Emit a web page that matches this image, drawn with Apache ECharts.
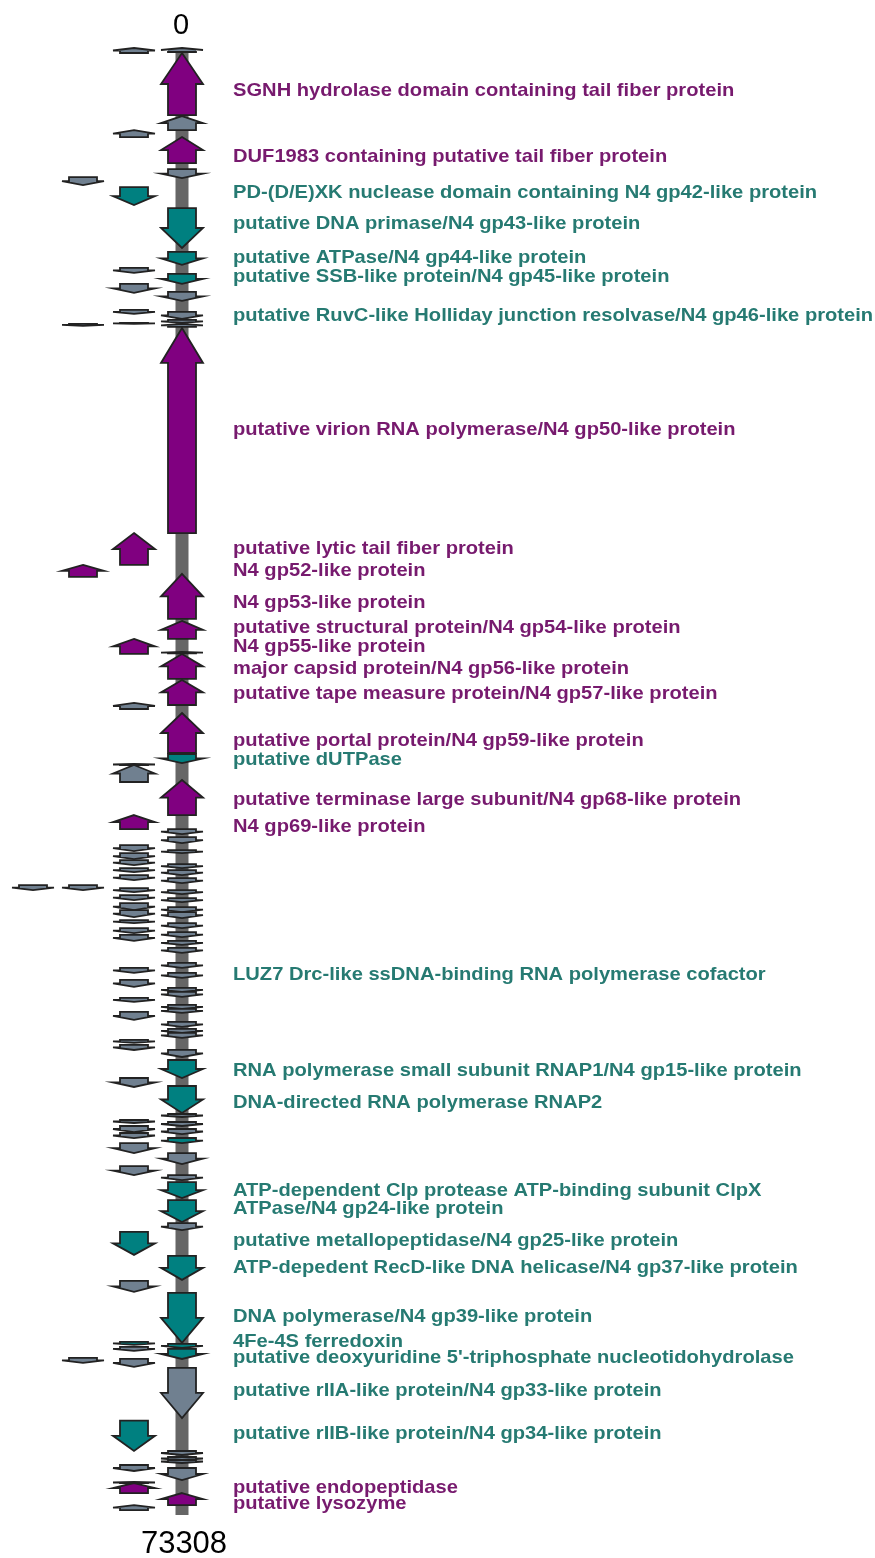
<!DOCTYPE html>
<html>
<head>
<meta charset="utf-8">
<script src="https://cdn.jsdelivr.net/npm/echarts@6/dist/echarts.min.js"></script>
<style>
  html, body { margin: 0; padding: 0; background: #ffffff; }
  #chart { width: 875px; height: 1558px; }
</style>
</head>
<body>
<div id="chart"></div>
<script>
// Phage genome map, 0 .. 73308 bp, read top to bottom.
const genomeLength = 73308;
const tickLabels = ['0', '73308'];

// Genes on each track: [start, end, strand, kind]
// strand: 1 = forward (arrow points down), -1 = reverse (arrow points up)
// kind: 'p' virion / structural, 't' DNA metabolism & transcription, 'g' hypothetical
const track0 = [
  [0, 200, -1, 'g'], [250, 3350, -1, 'p'], [3400, 4100, -1, 'g'], [4450, 5750, -1, 'p'],
  [6050, 6500, 1, 'g'], [8000, 9990, 1, 't'], [10190, 10840, 1, 't'], [11290, 11790, 1, 't'],
  [12190, 12640, 1, 'g'], [13190, 13540, 1, 'g'], [13590, 13740, 1, 'g'], [13790, 13940, -1, 'g'],
  [13990, 24240, -1, 'p'], [26280, 28530, -1, 'p'], [28630, 29530, -1, 'p'], [30180, 30250, -1, 'g'],
  [30280, 31530, -1, 'p'], [31580, 32830, -1, 'p'], [33230, 35230, -1, 'p'], [35280, 35730, 1, 't'],
  [36580, 38330, -1, 'p'],
  [39030, 39280, 1, 'g'], [39430, 39730, 1, 'g'], [40080, 40230, 1, 'g'], [40780, 40980, 1, 'g'],
  [41080, 41330, 1, 'g'], [41480, 41730, 1, 'g'], [42080, 42280, 1, 'g'], [42480, 42680, 1, 'g'],
  [42930, 43180, 1, 'g'], [43180, 43480, 1, 'g'], [43730, 43980, 1, 'g'], [44180, 44430, 1, 'g'],
  [44620, 44820, 1, 'g'], [44970, 45220, 1, 'g'], [45720, 45970, 1, 'g'], [46220, 46470, 1, 'g'],
  [46970, 47170, 1, 'g'], [47170, 47420, 1, 'g'], [47820, 48020, 1, 'g'], [48020, 48220, 1, 'g'],
  [48670, 48920, 1, 'g'], [49020, 49220, 1, 'g'], [49220, 49470, 1, 'g'], [50070, 50420, 1, 'g'],
  [50570, 51470, 1, 't'], [51870, 53220, 1, 't'], [53270, 53420, 1, 'g'], [53670, 53870, 1, 'g'],
  [54020, 54270, 1, 'g'], [54470, 54720, 1, 't'], [55220, 55770, 1, 'g'], [56320, 56570, 1, 'g'],
  [56670, 57470, 1, 't'], [57570, 58670, 1, 't'], [58720, 59070, 1, 'g'], [60360, 61560, 1, 't'],
  [62210, 64710, 1, 't'], [64760, 64960, 1, 't'], [65010, 65510, 1, 't'], [65960, 68460, 1, 'g'],
  [70110, 70310, 1, 'g'], [70410, 70560, 1, 'g'], [70560, 70710, 1, 'g'], [70960, 71560, 1, 'g'],
  [72210, 72810, -1, 'p']
];
const track1 = [
  [0, 250, -1, 'g'], [4100, 4450, -1, 'g'], [6950, 7850, 1, 't'], [10990, 11240, 1, 'g'],
  [11790, 12240, 1, 'g'], [13090, 13290, 1, 'g'], [13740, 13790, 1, 'g'], [24240, 25830, -1, 'p'],
  [29530, 30280, -1, 'p'], [32730, 33030, -1, 'g'], [35780, 35830, -1, 'g'], [35830, 36680, -1, 'g'],
  [38330, 39030, -1, 'p'],
  [39830, 40130, 1, 'g'], [40230, 40530, 1, 'g'], [40580, 40830, 1, 'g'], [40980, 41180, 1, 'g'],
  [41330, 41580, 1, 'g'], [41980, 42180, 1, 'g'], [42330, 42580, 1, 'g'], [42730, 43080, 1, 'g'],
  [43080, 43430, 1, 'g'], [43580, 43730, 1, 'g'], [43980, 44230, 1, 'g'], [44320, 44620, 1, 'g'],
  [45970, 46220, 1, 'g'], [46570, 46920, 1, 'g'], [47470, 47670, 1, 'g'], [48170, 48570, 1, 'g'],
  [49570, 49720, 1, 'g'], [49820, 50070, 1, 'g'], [51470, 51920, 1, 'g'], [53570, 53720, 1, 'g'],
  [53870, 54170, 1, 'g'], [54220, 54470, 1, 'g'], [54720, 55220, 1, 'g'], [55870, 56320, 1, 'g'],
  [59160, 60310, 1, 't'], [61610, 62160, 1, 'g'], [64660, 64810, 1, 't'], [64910, 65110, 1, 'g'],
  [65510, 65910, 1, 'g'], [68590, 70110, 1, 't'], [70810, 71110, 1, 'g'], [71660, 71710, -1, 'g'],
  [71710, 72210, -1, 'p'], [72810, 73060, -1, 'g']
];
const track2 = [
  [6450, 6850, 1, 'g'], [13790, 13890, 1, 'g'], [25830, 26430, -1, 'p'], [41830, 42080, 1, 'g'],
  [65460, 65710, 1, 'g']
];
const track3 = [
  [41830, 42080, 1, 'g']
];

// Annotated gene products and their genome position
const labelNames = [
  'SGNH hydrolase domain containing tail fiber protein',
  'DUF1983 containing putative tail fiber protein',
  'PD-(D/E)XK nuclease domain containing N4 gp42-like protein',
  'putative DNA primase/N4 gp43-like protein',
  'putative ATPase/N4 gp44-like protein',
  'putative SSB-like protein/N4 gp45-like protein',
  'putative RuvC-like Holliday junction resolvase/N4 gp46-like protein',
  'putative virion RNA polymerase/N4 gp50-like protein',
  'putative lytic tail fiber protein',
  'N4 gp52-like protein',
  'N4 gp53-like protein',
  'putative structural protein/N4 gp54-like protein',
  'N4 gp55-like protein',
  'major capsid protein/N4 gp56-like protein',
  'putative tape measure protein/N4 gp57-like protein',
  'putative portal protein/N4 gp59-like protein',
  'putative dUTPase',
  'putative terminase large subunit/N4 gp68-like protein',
  'N4 gp69-like protein',
  'LUZ7 Drc-like ssDNA-binding RNA polymerase cofactor',
  'RNA polymerase small subunit RNAP1/N4 gp15-like protein',
  'DNA-directed RNA polymerase RNAP2',
  'ATP-dependent Clp protease ATP-binding subunit ClpX',
  'ATPase/N4 gp24-like protein',
  'putative metallopeptidase/N4 gp25-like protein',
  'ATP-depedent RecD-like DNA helicase/N4 gp37-like protein',
  'DNA polymerase/N4 gp39-like protein',
  '4Fe-4S ferredoxin',
  "putative deoxyuridine 5'-triphosphate nucleotidohydrolase",
  'putative rIIA-like protein/N4 gp33-like protein',
  'putative rIIB-like protein/N4 gp34-like protein',
  'putative endopeptidase',
  'putative lysozyme'
];
const labelPos = [
  2150, 5450, 7250, 8790, 10490, 11440, 13390, 19090, 25040, 26130, 27730, 28980, 29930,
  31030, 32280, 34630, 35580, 37580, 38930, 46320, 51120, 52720, 57120, 58020, 59610,
  60960, 63410, 64660, 65460, 67110, 69260, 71960, 72760
];
const labelKind = [
  'p', 'p', 't', 't', 't', 't', 't', 'p', 'p', 'p', 'p', 'p', 'p', 'p', 'p', 'p', 't', 'p', 'p',
  't', 't', 't', 't', 't', 't', 't', 't', 't', 't', 't', 't', 'p', 'p'
];

// Drawing settings
const trackX = [182, 134, 83, 33];
const labelX = 233;
const fillColor = { p: '#800080', t: '#008080', g: '#708090' };
const textColor = { p: '#771a6e', t: '#267a72' };

const genes = [];
[track0, track1, track2, track3].forEach((track, t) => {
  track.forEach(g => genes.push({ value: [g[0], g[1], g[2], t], kind: g[3] }));
});

function renderGene(params, api) {
  const start = api.value(0), end = api.value(1), strand = api.value(2), t = api.value(3);
  const kind = genes[params.dataIndex].kind;
  const cx = api.coord([trackX[t], 0])[0];
  const y0 = api.coord([0, start])[1];
  const y1 = api.coord([0, end])[1];
  const len = y1 - y0;
  const head = Math.min(len * 0.5, 35);
  const sw = 14, hw = 21;
  let pts;
  if (strand > 0) {
    const yb = y1 - head;
    pts = [[cx - sw, y0], [cx + sw, y0], [cx + sw, yb], [cx + hw, yb], [cx, y1], [cx - hw, yb], [cx - sw, yb]];
  } else {
    const yb = y0 + head;
    pts = [[cx, y0], [cx + hw, yb], [cx + sw, yb], [cx + sw, y1], [cx - sw, y1], [cx - sw, yb], [cx - hw, yb]];
  }
  return {
    type: 'polygon',
    shape: { points: pts },
    style: { fill: fillColor[kind], stroke: '#222222', lineWidth: 1.8, lineJoin: 'miter' }
  };
}

function renderBackbone(params, api) {
  const cx = api.coord([trackX[0], 0])[0];
  const top = api.coord([0, api.value(0)])[1];
  const bottom = api.coord([0, api.value(1)])[1];
  return {
    type: 'group',
    children: [
      { type: 'rect', shape: { x: cx - 6.5, y: top, width: 13, height: bottom - top }, style: { fill: '#666666' } },
      { type: 'text', x: cx - 1, y: top - 22, style: { text: tickLabels[0], fill: '#000', font: '29px "Liberation Sans", Arial, sans-serif', align: 'center', verticalAlign: 'middle' } },
      { type: 'text', x: cx + 2, y: bottom + 29, style: { text: tickLabels[1], fill: '#000', font: '31px "Liberation Sans", Arial, sans-serif', align: 'center', verticalAlign: 'middle' } }
    ]
  };
}

function renderLabel(params, api) {
  const i = params.dataIndex;
  const p = api.coord([labelX, api.value(0)]);
  return {
    type: 'text',
    x: p[0], y: p[1],
    scaleX: 1.06,
    style: {
      text: labelNames[i],
      fill: textColor[labelKind[i]],
      font: 'bold 19px "Liberation Sans", Arial, sans-serif',
      align: 'left', verticalAlign: 'middle'
    }
  };
}

const chart = echarts.init(document.getElementById('chart'), null, { renderer: 'canvas' });
chart.setOption({
  animation: false,
  backgroundColor: '#ffffff',
  grid: { left: 0, right: 0, top: 48, bottom: 43 },
  xAxis: { type: 'value', min: 0, max: 875, show: false },
  yAxis: { type: 'value', min: 0, max: genomeLength, inverse: true, show: false },
  series: [
    { type: 'custom', z: 1, renderItem: renderBackbone, data: [[0, genomeLength]], silent: true },
    { type: 'custom', z: 2, renderItem: renderGene, data: genes, silent: true },
    { type: 'custom', z: 3, renderItem: renderLabel, data: labelPos.map(v => [v]), silent: true }
  ]
});
</script>
</body>
</html>
